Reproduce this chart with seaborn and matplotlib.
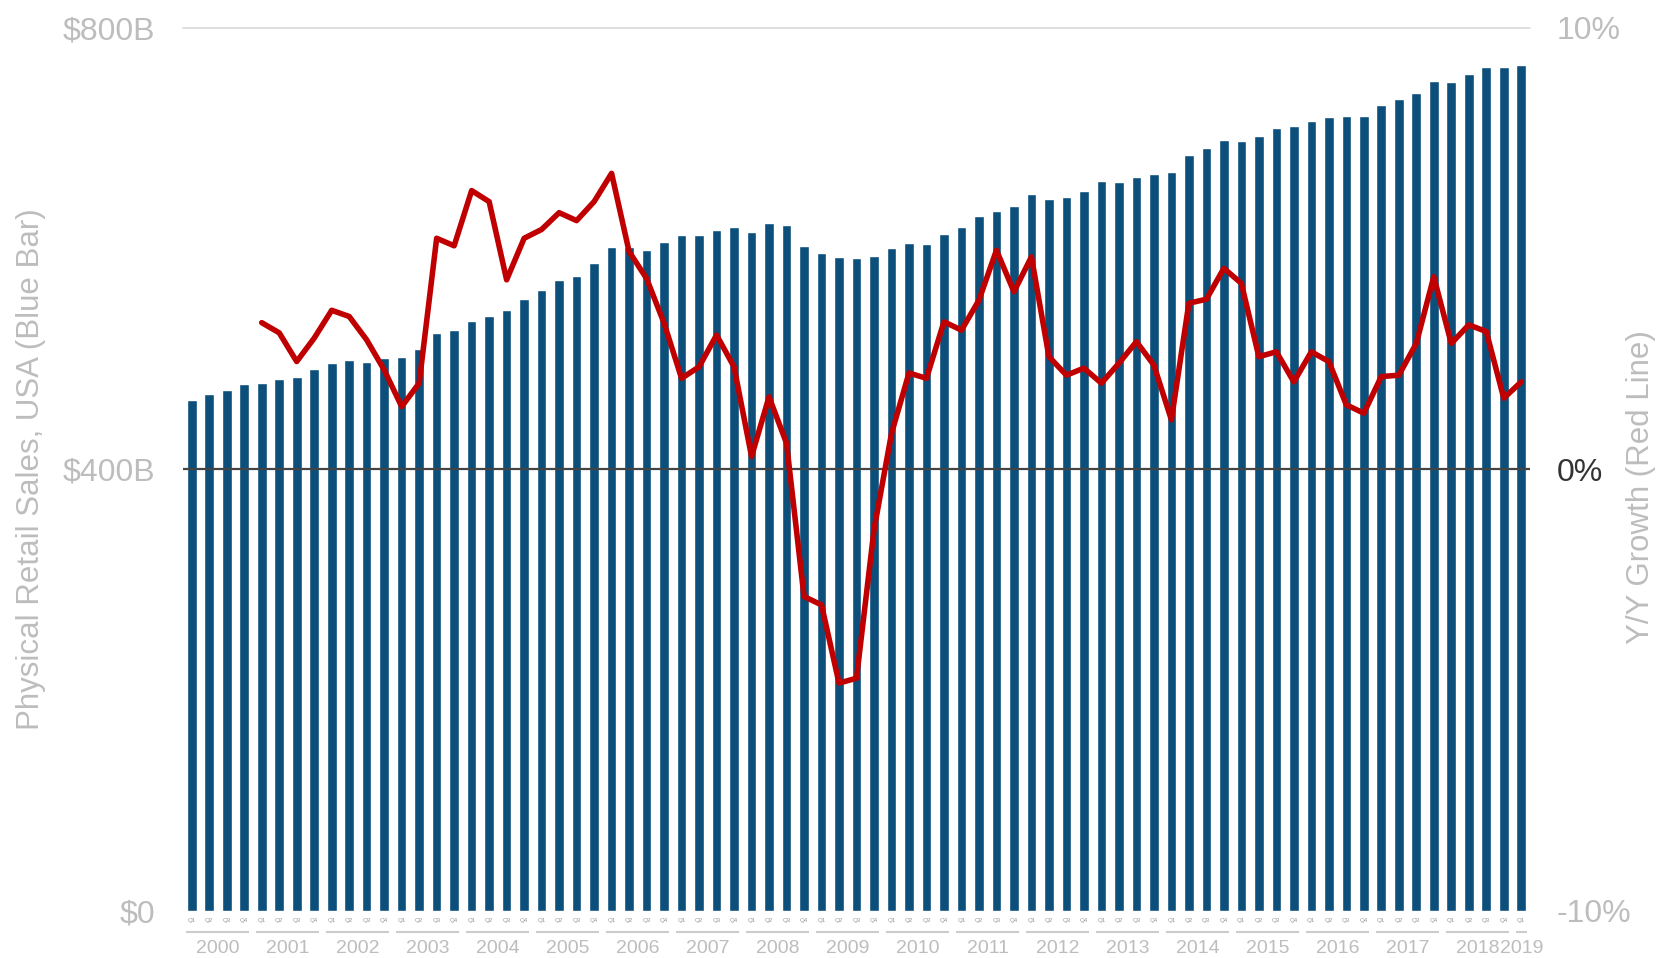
import numpy as np
import pandas as pd
import matplotlib
matplotlib.use("Agg")
import matplotlib.pyplot as plt
import matplotlib.transforms as mtransforms
import seaborn as sns

# Quarterly data, 2000 Q1 - 2019 Q1
years = list(range(2000, 2020))
quarters = [f"Q{q}" for y in years[:-1] for q in range(1, 5)] + ["Q1"]
quarter_years = [y for y in years[:-1] for _ in range(4)] + [2019]

# Physical retail sales, USA ($B)
sales = [463, 468, 472, 477, 478, 482, 484, 491, 496, 499, 497, 501,
         502, 509, 523, 526, 534, 539, 544, 554, 562, 571, 575, 587,
         601, 601, 599, 606, 612, 612, 617, 619, 615, 623, 621, 602,
         596, 592, 591, 593, 600, 605, 604, 613, 619, 629, 634, 638,
         649, 645, 647, 652, 661, 660, 665, 667, 669, 685, 691, 698,
         697, 702, 709, 711, 715, 719, 720, 720, 730, 735, 741, 752,
         751, 758, 764, 764, 766]

# Y/Y growth (%), from 2001 Q1 onward
growth = [3.32, 3.09, 2.44, 2.97, 3.60, 3.46, 2.93, 2.25, 1.42, 1.95,
          5.23, 5.06, 6.31, 6.06, 4.29, 5.23, 5.43, 5.81, 5.63, 6.06,
          6.70, 4.93, 4.32, 3.31, 2.06, 2.32, 3.04, 2.32, 0.29, 1.64,
          0.59, -2.88, -3.07, -4.84, -4.73, -1.37, 0.81, 2.18, 2.06, 3.34,
          3.15, 3.83, 4.96, 4.02, 4.81, 2.55, 2.13, 2.29, 1.95, 2.40,
          2.89, 2.36, 1.12, 3.76, 3.85, 4.55, 4.21, 2.55, 2.66, 1.98,
          2.66, 2.44, 1.46, 1.27, 2.10, 2.13, 2.85, 4.36, 2.85, 3.27,
          3.12, 1.61, 1.98]

BLUE = "#0b4f7a"
RED = "#c00000"
LIGHT = "#bdbdbd"

sns.set_style("white")
plt.rcParams['font.family'] = ['Liberation Sans', 'DejaVu Sans']

n = len(sales)
idx = np.arange(n)
df_bar = pd.DataFrame({"pos": idx, "sales": sales})
df_line = pd.DataFrame({"pos": idx[n - len(growth):], "growth": growth})

fig = plt.figure(figsize=(16.61, 9.58), dpi=100)
ax = fig.add_axes([183 / 1661, 47 / 958, 1347 / 1661, 883.4 / 958])

sns.barplot(data=df_bar, x="pos", y="sales", color=BLUE, saturation=1,
            width=0.55, ax=ax, zorder=2)
ax.set_xlim(-0.5, n - 0.5)
ax.set_ylim(0, 800)

# reference lines
ax.axhline(800, color="#dddddd", lw=1.3, clip_on=False, zorder=1)
ax.axhline(400, color="#444444", lw=1.6, zorder=3)

ax.set_yticks([0, 400, 800])
ax.set_yticklabels(["$0", "$400B", "$800B"])
ax.tick_params(axis="y", length=0, pad=20, labelsize=23, labelcolor=LIGHT)
ax.set_xticks(idx)
ax.set_xticklabels(quarters)
ax.tick_params(axis="x", length=0, pad=5, labelsize=4.5, labelcolor="#9a9a9a")
ax.set_xlabel("")
ax.set_ylabel("Physical Retail Sales, USA (Blue Bar)", fontsize=22.5, color=LIGHT)
ax.yaxis.set_label_coords(-0.102, 0.5)

# year labels with underline
trans = mtransforms.blended_transform_factory(ax.transData, ax.transAxes)
for y in years:
    pos = [i for i, qy in enumerate(quarter_years) if qy == y]
    ax.plot([pos[0] - 0.3, pos[-1] + 0.3], [-0.0238, -0.0238], transform=trans,
            color="#cccccc", lw=1.5, clip_on=False, solid_capstyle="butt")
    ax.text((pos[0] + pos[-1]) / 2, -0.042, str(y), transform=trans,
            ha="center", va="center", fontsize=14, color=LIGHT)

# growth line on right axis
ax2 = ax.twinx()
sns.lineplot(data=df_line, x="pos", y="growth", color=RED, lw=4, ax=ax2,
             zorder=4)
ax2.set_xlim(-0.5, n - 0.5)
ax2.set_ylim(-10, 10)
ax2.set_yticks([-10, 0, 10])
ax2.set_yticklabels(["-10%", "0%", "10%"])
ax2.tick_params(axis="y", length=0, pad=19, labelsize=23, labelcolor=LIGHT)
ax2.get_yticklabels()[1].set_color("#333333")
ax2.set_ylabel("Y/Y Growth (Red Line)", fontsize=22.5, color=LIGHT)
ax2.yaxis.set_label_coords(1.071, 0.48)
ax2.set_xlabel("")

for a in (ax, ax2):
    for s in a.spines.values():
        s.set_visible(False)

fig.savefig("out.png", dpi=100)
